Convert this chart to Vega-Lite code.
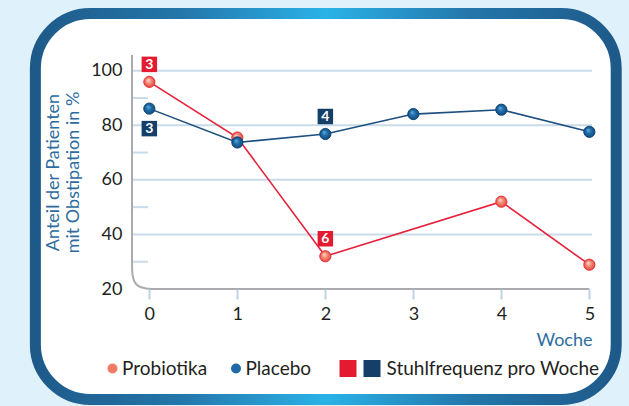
{
  "$schema": "https://vega.github.io/schema/vega-lite/v6.json",
  "width": 460,
  "height": 234,
  "autosize": "none",
  "padding": {"left": 132, "top": 55, "right": 37, "bottom": 117},
  "background": "#dff1fa",
  "config": {
    "view": {"stroke": null, "fill": null},
    "font": "Lato",
    "text": {"font": "Lato"}
  },
  "datasets": {
    "anteil": [
      {"woche": 0, "gruppe": "Probiotika", "anteil": 95.9},
      {"woche": 1, "gruppe": "Probiotika", "anteil": 75.5},
      {"woche": 2, "gruppe": "Probiotika", "anteil": 32.0},
      {"woche": 4, "gruppe": "Probiotika", "anteil": 52.0},
      {"woche": 5, "gruppe": "Probiotika", "anteil": 28.9},
      {"woche": 0, "gruppe": "Placebo", "anteil": 86.1},
      {"woche": 1, "gruppe": "Placebo", "anteil": 73.7},
      {"woche": 2, "gruppe": "Placebo", "anteil": 76.8},
      {"woche": 3, "gruppe": "Placebo", "anteil": 84.1},
      {"woche": 4, "gruppe": "Placebo", "anteil": 85.7},
      {"woche": 5, "gruppe": "Placebo", "anteil": 77.6}
    ],
    "stuhl": [
      {"woche": 0, "serie": "Stuhlfrequenz Probiotika", "anteil": 95.9, "stuhlfrequenz": 3, "lage": "oben"},
      {"woche": 2, "serie": "Stuhlfrequenz Probiotika", "anteil": 32.0, "stuhlfrequenz": 6, "lage": "oben"},
      {"woche": 0, "serie": "Stuhlfrequenz Placebo", "anteil": 86.1, "stuhlfrequenz": 3, "lage": "unten"},
      {"woche": 2, "serie": "Stuhlfrequenz Placebo", "anteil": 76.8, "stuhlfrequenz": 4, "lage": "oben"}
    ],
    "achse": [
      {"i": 0, "ax": -0.197, "ay": 105.75},
      {"i": 1, "ax": -0.197, "ay": 39.8},
      {"i": 2, "ax": -0.197, "ay": 29.9},
      {"i": 3, "ax": -0.197, "ay": 20},
      {"i": 4, "ax": 0.11, "ay": 20},
      {"i": 5, "ax": 0.417, "ay": 20},
      {"i": 6, "ax": 5.0, "ay": 20}
    ]
  },
  "layer": [
    {
      "data": {"values": [{}]},
      "mark": {
        "type": "rect",
        "cornerRadius": 55,
        "fill": "white",
        "strokeWidth": 11,
        "stroke": {
          "gradient": "linear", "x1": 0, "y1": 0, "x2": 1, "y2": 0,
          "stops": [
            {"offset": 0, "color": "#1e5a89"},
            {"offset": 0.25, "color": "#2476aa"},
            {"offset": 0.5, "color": "#2ab2e7"},
            {"offset": 0.75, "color": "#2476aa"},
            {"offset": 1, "color": "#1e5a89"}
          ]
        }
      },
      "encoding": {
        "x": {"datum": -1.295, "type": "quantitative", "scale": {"domain": [-0.197, 5.03], "nice": false, "zero": false}},
        "x2": {"datum": 5.305},
        "y": {"datum": 120.96, "type": "quantitative", "scale": {"domain": [20, 105.75], "nice": false, "zero": false}},
        "y2": {"datum": -20.5}
      }
    },
    {
      "data": {"values": [{"g": 40}, {"g": 60}, {"g": 80}, {"g": 100}]},
      "mark": {"type": "rule", "color": "#c9dbe9", "strokeWidth": 2},
      "encoding": {
        "y": {"field": "g", "type": "quantitative", "scale": {"domain": [20, 105.75], "nice": false, "zero": false}},
        "x": {"datum": -0.197, "type": "quantitative", "scale": {"domain": [-0.197, 5.03], "nice": false, "zero": false}},
        "x2": {"datum": 5.03}
      }
    },
    {
      "data": {"values": [{"g": 30}, {"g": 50}, {"g": 70}, {"g": 90}]},
      "mark": {"type": "rule", "color": "#c9dbe9", "strokeWidth": 2},
      "encoding": {
        "y": {"field": "g", "type": "quantitative", "scale": {"domain": [20, 105.75], "nice": false, "zero": false}},
        "x": {"datum": -0.197, "type": "quantitative", "scale": {"domain": [-0.197, 5.03], "nice": false, "zero": false}},
        "x2": {"datum": -0.015}
      }
    },
    {
      "data": {"name": "achse"},
      "mark": {"type": "line", "interpolate": "basis", "color": "#a9abae", "strokeWidth": 2},
      "encoding": {
        "x": {"field": "ax", "type": "quantitative", "scale": {"domain": [-0.197, 5.03], "nice": false, "zero": false}},
        "y": {"field": "ay", "type": "quantitative", "scale": {"domain": [20, 105.75], "nice": false, "zero": false}},
        "order": {"field": "i", "type": "quantitative"}
      }
    },
    {
      "data": {"name": "anteil"},
      "mark": {"type": "line", "strokeWidth": 1.6},
      "encoding": {
        "x": {
          "field": "woche", "type": "quantitative",
          "scale": {"domain": [-0.197, 5.03], "nice": false, "zero": false},
          "axis": {
            "values": [0, 1, 2, 3, 4, 5], "format": "d", "domain": false, "grid": false,
            "ticks": true, "tickColor": "#bcd3e4", "tickWidth": 2, "tickSize": 10,
            "labelFontSize": 18, "labelColor": "#231f20", "labelPadding": 6, "labelFont": "Lato",
            "title": "Woche", "titleColor": "#2e6ca0", "titleFontSize": 18, "titleFontWeight": "normal", "titleFont": "Lato",
            "titleAnchor": "end", "titleAlign": "right", "titlePadding": 8, "zindex": 1
          }
        },
        "y": {
          "field": "anteil", "type": "quantitative",
          "scale": {"domain": [20, 105.75], "nice": false, "zero": false},
          "axis": {
            "values": [20, 40, 60, 80, 100], "domain": false, "grid": false, "ticks": false,
            "labelFontSize": 18, "labelColor": "#231f20", "labelPadding": 10, "labelFont": "Lato",
            "title": ["Anteil der Patienten", "mit Obstipation in %"],
            "titleColor": "#2e6ca0", "titleFontSize": 18, "titleFontWeight": "normal", "titleFont": "Lato",
            "titleLineHeight": 20, "titlePadding": 8, "zindex": 1
          }
        },
        "stroke": {
          "field": "gruppe", "type": "nominal",
          "scale": {"domain": ["Placebo", "Probiotika"], "range": ["#1c4f80", "#e6203a"]},
          "legend": null
        }
      }
    },
    {
      "data": {"name": "anteil"},
      "mark": {"type": "point", "filled": true, "size": 60, "strokeWidth": 0, "opacity": 1, "shape": "circle"},
      "encoding": {
        "x": {"field": "woche", "type": "quantitative", "scale": {"domain": [-0.197, 5.03], "nice": false, "zero": false}},
        "y": {"field": "anteil", "type": "quantitative", "scale": {"domain": [20, 105.75], "nice": false, "zero": false}},
        "fill": {
          "field": "gruppe", "type": "nominal",
          "scale": {"domain": ["Probiotika", "Placebo"], "range": ["#f07a64", "#1f6aa6"]},
          "legend": {
            "title": null, "orient": "none", "legendX": -29, "legendY": 303.75,
            "direction": "horizontal", "columns": 2, "columnPadding": 18.5, "labelOffset": 0,
            "symbolType": "circle", "symbolSize": 100, "labelFontSize": 19, "labelFont": "Lato", "labelColor": "#231f20",
            "labelLimit": 400, "padding": 0, "zindex": 1
          }
        }
      }
    },
    {
      "data": {"name": "anteil"},
      "transform": [{"filter": "datum.gruppe == 'Probiotika'"}],
      "mark": {
        "type": "circle", "size": 125, "opacity": 1, "strokeWidth": 1, "stroke": "#e5323b",
        "fill": {
          "gradient": "radial", "x1": 0.38, "y1": 0.33, "r1": 0, "x2": 0.5, "y2": 0.5, "r2": 0.5,
          "stops": [
            {"offset": 0, "color": "#fde6dc"},
            {"offset": 0.45, "color": "#f5907a"},
            {"offset": 1, "color": "#e8473f"}
          ]
        }
      },
      "encoding": {
        "x": {"field": "woche", "type": "quantitative", "scale": {"domain": [-0.197, 5.03], "nice": false, "zero": false}},
        "y": {"field": "anteil", "type": "quantitative", "scale": {"domain": [20, 105.75], "nice": false, "zero": false}}
      }
    },
    {
      "data": {"name": "anteil"},
      "transform": [{"filter": "datum.gruppe == 'Placebo'"}],
      "mark": {
        "type": "circle", "size": 125, "opacity": 1, "strokeWidth": 1, "stroke": "#0f4474",
        "fill": {
          "gradient": "radial", "x1": 0.38, "y1": 0.33, "r1": 0, "x2": 0.5, "y2": 0.5, "r2": 0.5,
          "stops": [
            {"offset": 0, "color": "#6bb3e2"},
            {"offset": 0.45, "color": "#2170ab"},
            {"offset": 1, "color": "#124b80"}
          ]
        }
      },
      "encoding": {
        "x": {"field": "woche", "type": "quantitative", "scale": {"domain": [-0.197, 5.03], "nice": false, "zero": false}},
        "y": {"field": "anteil", "type": "quantitative", "scale": {"domain": [20, 105.75], "nice": false, "zero": false}}
      }
    },
    {
      "data": {"name": "stuhl"},
      "mark": {"type": "point", "shape": "square", "filled": true, "size": 240, "strokeWidth": 0, "opacity": 1, "yOffset": {"expr": "datum.lage == 'unten' ? 20 : -17.5"}},
      "encoding": {
        "x": {"field": "woche", "type": "quantitative", "scale": {"domain": [-0.197, 5.03], "nice": false, "zero": false}},
        "y": {"field": "anteil", "type": "quantitative", "scale": {"domain": [20, 105.75], "nice": false, "zero": false}},
        "color": {
          "field": "serie", "type": "nominal",
          "scale": {"domain": ["Stuhlfrequenz Probiotika", "Stuhlfrequenz Placebo"], "range": ["#e31b30", "#143f69"]},
          "legend": {
            "title": null, "orient": "none", "legendX": 206.5, "legendY": 303.75,
            "direction": "horizontal", "columns": 2, "columnPadding": -1.5, "labelOffset": 5,
            "symbolType": "square", "symbolSize": 289, "labelFontSize": 19, "labelFont": "Lato", "labelColor": "#231f20",
            "labelLimit": 400, "padding": 0, "zindex": 1,
            "labelExpr": "datum.value == 'Stuhlfrequenz Probiotika' ? '' : 'Stuhlfrequenz pro Woche'"
          }
        }
      }
    },
    {
      "data": {"name": "stuhl"},
      "mark": {"type": "text", "color": "white", "fontWeight": "bold", "fontSize": 14, "font": "Lato", "baseline": "middle", "align": "center", "yOffset": {"expr": "datum.lage == 'unten' ? 20.5 : -17"}},
      "encoding": {
        "x": {"field": "woche", "type": "quantitative", "scale": {"domain": [-0.197, 5.03], "nice": false, "zero": false}},
        "y": {"field": "anteil", "type": "quantitative", "scale": {"domain": [20, 105.75], "nice": false, "zero": false}},
        "text": {"field": "stuhlfrequenz", "type": "quantitative"}
      }
    }
  ]
}
